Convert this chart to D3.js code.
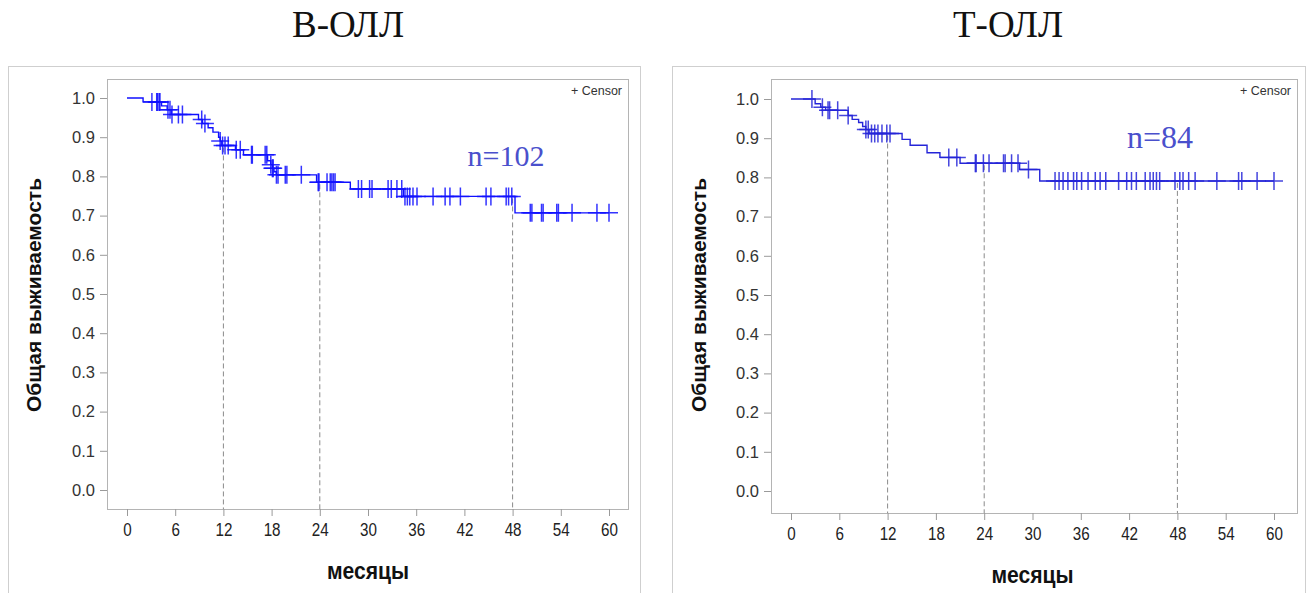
<!DOCTYPE html>
<html>
<head>
<meta charset="utf-8">
<script src="https://cdn.jsdelivr.net/npm/d3@7/dist/d3.min.js"></script>
<style>
body { margin: 0; background: #fff; }
.tick line { stroke: #9a9a9a; }
.ylab text { font-family: "Liberation Sans", Arial, sans-serif; font-size: 16.5px; fill: #333; }
.xlab text { font-family: "Liberation Sans", Arial, sans-serif; font-size: 19px; fill: #222; }
</style>
</head>
<body>
<script>
// axis ticks
var monthTicks = [0, 6, 12, 18, 24, 30, 36, 42, 48, 54, 60];
var survTicks = [0, 0.1, 0.2, 0.3, 0.4, 0.5, 0.6, 0.7, 0.8, 0.9, 1.0];
var refMonths = [12, 24, 48];

// B-ALL: event times (months) and survival after each step
var bTimes = [0, 2.0, 4.3, 5.0, 5.5, 8.9, 9.4, 10.1, 10.7, 11.4, 11.6, 11.8, 13.5, 14.5, 17.5, 17.9, 18.1, 18.3, 18.6, 23.6, 27.8, 34.4, 48.3];
var bSurv  = [1.0, 0.99, 0.98, 0.97, 0.958, 0.945, 0.935, 0.924, 0.913, 0.90, 0.89, 0.879, 0.868, 0.855, 0.84, 0.83, 0.821, 0.812, 0.804, 0.785, 0.768, 0.749, 0.707];
var bCensor = [3.1, 3.7, 3.8, 4.0, 4.1, 5.1, 5.35, 5.6, 6.4, 6.9, 9.3, 9.7, 11.6, 11.9, 12.2, 12.6, 13.6, 14.1, 15.5, 15.6,
  17.2, 17.4, 17.9, 18.1, 18.2, 18.6, 18.8, 19.7, 19.9, 21.7, 23.8, 23.9, 24.9, 25.3, 25.5, 25.7, 25.9, 28.8, 29.2, 30.2, 30.5,
  32.5, 32.9, 33.6, 34.2, 34.6, 34.9, 35.2, 35.6, 36.1, 38.1, 39.6, 40.2, 41.5, 44.7, 45.3, 47.2, 47.5, 47.9,
  50.2, 50.4, 51.6, 51.8, 53.5, 53.7, 55.4, 58.5, 60.0];

// T-ALL
var tTimes = [0, 3.0, 3.7, 4.3, 7.1, 7.6, 8.4, 8.9, 9.3, 9.7, 13.8, 14.8, 16.9, 18.5, 21.0, 28.4, 30.9];
var tSurv  = [1.0, 0.988, 0.979, 0.971, 0.958, 0.948, 0.94, 0.93, 0.922, 0.912, 0.897, 0.882, 0.863, 0.851, 0.836, 0.82, 0.791];
var tCensor = [2.6, 3.9, 4.6, 4.8, 5.8, 7.1, 9.3, 9.6, 10.0, 10.4, 10.8, 11.3, 11.9, 12.3, 19.6, 20.6, 22.9, 23.0, 23.9, 24.6,
  26.4, 26.6, 27.4, 28.2, 29.5, 32.8, 33.3, 33.8, 34.4, 35.1, 35.5, 36.1, 36.9, 37.8, 38.4, 39.1, 40.7, 41.7, 42.3, 42.9,
  44.0, 44.6, 45.0, 45.4, 45.8, 47.7, 48.3, 48.7, 49.4, 50.2, 52.9, 55.6, 56.0, 57.9, 60.0];

var svg = d3.select("body").append("svg")
    .attr("width", 1309)
    .attr("height", 593);

function survAt(times, surv, t) {
    var i = d3.bisectRight(times, t) - 1;
    return surv[Math.max(0, i)];
}

function panel(p) {
    var g = svg.append("g");
    var x = d3.scaleLinear().domain([0, 60]).range([p.x0, p.x60]),
        y = d3.scaleLinear().domain([0, 1]).range([p.y0, p.y1]);

    // outer frame (bottom runs off the picture)
    g.append("rect")
        .attr("x", p.frame[0] + 0.5).attr("y", 66.5)
        .attr("width", p.frame[1] - p.frame[0]).attr("height", 560)
        .attr("fill", "none").attr("stroke", "#cfcfcf");

    g.append("text")
        .attr("x", p.titleX).attr("y", 37)
        .attr("text-anchor", "middle")
        .style("font-family", "'Liberation Serif', 'Times New Roman', serif")
        .style("font-size", "37px").style("fill", "#111")
        .text(p.title);

    g.append("rect")
        .attr("x", p.left + 0.5).attr("y", 79.5)
        .attr("width", p.right - p.left).attr("height", p.bottom - 79)
        .attr("fill", "none").attr("stroke", "#b4b4b4");

    g.append("g").attr("class", "ylab")
        .attr("transform", "translate(" + p.left + ",0)")
        .call(d3.axisLeft(y).tickValues(survTicks).tickFormat(d3.format(".1f")).tickSize(7).tickPadding(5))
        .call(a => a.select(".domain").remove());

    // condensed look of the month labels
    g.append("g").attr("class", "xlab")
        .attr("transform", "translate(0," + p.bottom + ")")
        .call(d3.axisBottom(x).tickValues(monthTicks).tickSize(7).tickPadding(7))
        .call(a => a.select(".domain").remove())
        .call(a => a.selectAll("text").attr("transform", "scale(0.8,1)"));

    g.append("text")
        .attr("transform", "translate(" + p.ytitleX + ",295) rotate(-90)")
        .attr("text-anchor", "middle")
        .style("font-family", "'Liberation Sans', Arial, sans-serif")
        .style("font-size", "21px").style("font-weight", "bold").style("fill", "#111")
        .text("Общая выживаемость");

    g.append("text")
        .attr("transform", "translate(" + (p.x0 + p.x60) / 2 + "," + (p.bottom + 70) + ") scale(0.88,1)")
        .attr("text-anchor", "middle")
        .style("font-family", "'Liberation Sans', Arial, sans-serif")
        .style("font-size", "24px").style("font-weight", "bold").style("fill", "#111")
        .text("месяцы");

    // dashed reference lines
    g.selectAll(".ref").data(refMonths).enter().append("line")
        .attr("x1", d => x(d)).attr("x2", d => x(d))
        .attr("y1", d => y(survAt(p.times, p.surv, d)) + 2)
        .attr("y2", p.bottom)
        .attr("stroke", "#8a8a8a").attr("stroke-dasharray", "5,3");

    // KM step curve
    var pts = p.times.map((t, i) => [t, p.surv[i]]);
    pts.push([60, p.surv[p.surv.length - 1]]);
    g.append("path")
        .attr("d", d3.line().x(d => x(d[0])).y(d => y(d[1])).curve(d3.curveStepAfter)(pts))
        .attr("fill", "none").attr("stroke", p.color).attr("stroke-width", 1.4);

    // censor marks
    var hs = 9;
    g.selectAll(".cens").data(p.censor).enter().append("path")
        .attr("transform", d => "translate(" + x(d) + "," + y(survAt(p.times, p.surv, d)) + ")")
        .attr("d", "M" + (-hs) + ",0H" + hs + "M0," + (-hs) + "V" + hs)
        .attr("stroke", p.color).attr("stroke-width", 1.5).attr("stroke-opacity", 0.85);

    g.append("text")
        .attr("x", p.nX).attr("y", p.nY)
        .attr("text-anchor", "middle")
        .style("font-family", "'Liberation Serif', 'Times New Roman', serif")
        .style("font-size", p.nSize + "px").style("fill", "#4a50cc")
        .text("n=" + p.n);

    g.append("text")
        .attr("x", p.right - 6).attr("y", 95)
        .attr("text-anchor", "end")
        .style("font-family", "'Liberation Sans', Arial, sans-serif")
        .style("font-size", "12.5px").style("fill", "#333")
        .text("+  Censor");
}

panel({
    title: "В-ОЛЛ", titleX: 348, n: 102, nX: 506, nY: 166, nSize: 30,
    frame: [8, 640], left: 107, right: 628, bottom: 509,
    x0: 127, x60: 609, y0: 490, y1: 98, ytitleX: 41,
    times: bTimes, surv: bSurv, censor: bCensor, color: "#1010ff"
});

panel({
    title: "Т-ОЛЛ", titleX: 1008, n: 84, nX: 1160, nY: 148, nSize: 32,
    frame: [672, 1305], left: 771, right: 1297, bottom: 513,
    x0: 791, x60: 1274, y0: 491, y1: 99, ytitleX: 706,
    times: tTimes, surv: tSurv, censor: tCensor, color: "#2525d8"
});
</script>
</body>
</html>
